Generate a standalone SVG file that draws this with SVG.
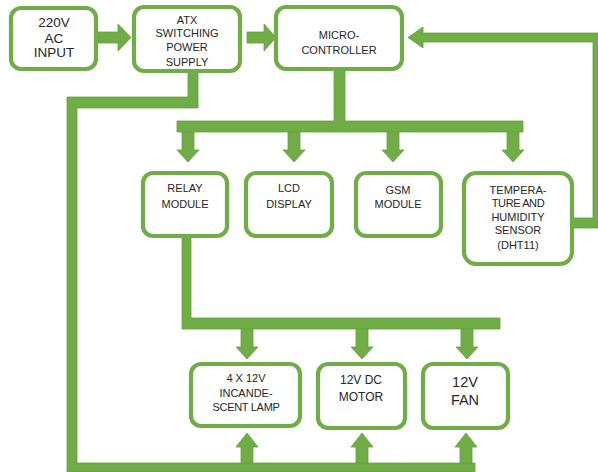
<svg xmlns="http://www.w3.org/2000/svg" width="598" height="472" viewBox="0 0 598 472">
<style>
.box{fill:#fff;stroke:#70AD47;stroke-width:4.2}
.c{fill:#70AD47;stroke:#64A03E;stroke-width:0.8}
text{font-family:"Liberation Sans",Arial,sans-serif;fill:#262626;text-anchor:middle}
.s11{font-size:11px}
.s12{font-size:12px}
.s13{font-size:13.5px}
.s14{font-size:14.5px}
</style>
<defs>
<polygon id="dn" points="-6,0 6,0 6,18 11,18 0,30 -11,18 -6,18"/>
<polygon id="up" points="-6,0 6,0 6,-16 11,-16 0,-30 -11,-16 -6,-16"/>
</defs>
<g id="connectors" class="c">
<polygon points="98,32 118,32 118,24 131,37.5 118,51 118,43 98,43"/>
<polygon points="247,32 264,32 264,24 276,37.5 264,51 264,43 247,43"/>
<polygon points="598,33 423,33 423,27 408,37.5 423,48 423,42 593,42 593,218 573,218 573,228 598,228"/>
<polygon points="188,72 198,72 198,108 77,108 77,463 475,463 475,472 67,472 67,97 188,97"/>
<polygon points="334,70 345,70 345,121 523,121 523,132 177,132 177,121 334,121"/>
<use href="#dn" x="188" y="132"/>
<use href="#dn" x="294" y="132"/>
<use href="#dn" x="393" y="132"/>
<use href="#dn" x="513" y="132"/>
<polygon points="182,237 191,237 191,318 500,318 500,329 182,329"/>
<use href="#dn" x="247" y="329"/>
<use href="#dn" x="362" y="329"/>
<use href="#dn" x="467" y="329"/>
<use href="#up" x="247" y="463"/>
<use href="#up" x="362" y="463"/>
<use href="#up" x="466" y="463"/>
</g>
<rect x="11" y="13" width="1.5" height="27" fill="#111"/>
<g id="ac-input">
<rect class="box" x="11" y="8" width="85" height="61" rx="10"/>
<text class="s13" x="54" y="27">220V</text>
<text class="s13" x="54" y="43">AC</text>
<text class="s13" x="54" y="57">INPUT</text>
</g>
<g id="atx-psu">
<rect class="box" x="134" y="7" width="106" height="64" rx="10"/>
<text class="s11" x="187" y="24">ATX</text>
<text class="s11" x="187" y="37">SWITCHING</text>
<text class="s11" x="187" y="51">POWER</text>
<text class="s11" x="187" y="66">SUPPLY</text>
</g>
<g id="microcontroller">
<rect class="box" x="276" y="7" width="126" height="62" rx="10"/>
<text class="s11" x="339" y="39">MICRO-</text>
<text class="s11" x="339" y="54">CONTROLLER</text>
</g>
<g id="relay">
<rect class="box" x="143" y="173" width="84" height="63" rx="10"/>
<text class="s11" x="185" y="192">RELAY</text>
<text class="s11" x="185" y="208">MODULE</text>
</g>
<g id="lcd">
<rect class="box" x="246" y="173" width="86" height="63" rx="10"/>
<text class="s11" x="289" y="192">LCD</text>
<text class="s11" x="289" y="208">DISPLAY</text>
</g>
<g id="gsm">
<rect class="box" x="356" y="173" width="85" height="63" rx="10"/>
<text class="s11" x="398" y="194">GSM</text>
<text class="s11" x="398" y="208">MODULE</text>
</g>
<g id="sensor">
<rect class="box" x="464" y="173" width="108" height="91" rx="12"/>
<text class="s11" x="518" y="194">TEMPERA-</text>
<text class="s11" x="518" y="207" letter-spacing="-0.4">TURE AND</text>
<text class="s11" x="518" y="221">HUMIDITY</text>
<text class="s11" x="518" y="234">SENSOR</text>
<text class="s11" x="518" y="249">(DHT11)</text>
</g>
<g id="lamp">
<rect class="box" x="191" y="364" width="109" height="62" rx="10"/>
<text class="s11" x="246" y="382">4 X 12V</text>
<text class="s11" x="246" y="397">INCANDE-</text>
<text class="s11" x="246" y="411" letter-spacing="-0.3">SCENT LAMP</text>
</g>
<g id="motor">
<rect class="box" x="318" y="364" width="87" height="64" rx="10"/>
<text class="s12" x="361" y="384">12V DC</text>
<text class="s12" x="361" y="401">MOTOR</text>
</g>
<g id="fan">
<rect class="box" x="423" y="364" width="85" height="64" rx="10"/>
<text class="s14" x="465" y="387">12V</text>
<text class="s14" x="465" y="405">FAN</text>
</g>
</svg>
